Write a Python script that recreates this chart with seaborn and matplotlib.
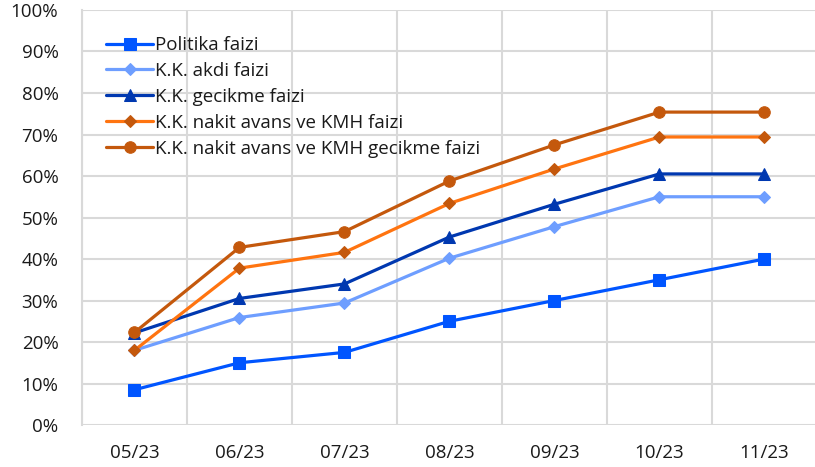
import matplotlib
matplotlib.use("Agg")
import matplotlib.pyplot as plt
import seaborn as sns
import pandas as pd

months = ["05/23", "06/23", "07/23", "08/23", "09/23", "10/23", "11/23"]
politika = [8.5, 15.0, 17.5, 25.0, 30.0, 35.0, 40.0]
akdi = [18.0, 25.9, 29.4, 40.2, 47.8, 55.0, 55.0]
gecikme = [22.2, 30.5, 34.0, 45.3, 53.2, 60.5, 60.5]
nakit = [18.0, 37.8, 41.6, 53.4, 61.7, 69.4, 69.4]
nakit_gec = [22.3, 42.8, 46.6, 58.8, 67.5, 75.4, 75.4]

series = [
    ("Politika faizi", politika, "#0055FF", "s", 9, "#0055FF"),
    ("K.K. akdi faizi", akdi, "#6E9EFF", "D", 6.3, "#6E9EFF"),
    ("K.K. gecikme faizi", gecikme, "#0038B0", "^", 8.5, "#0038B0"),
    ("K.K. nakit avans ve KMH faizi", nakit, "#FF7410", "D", 6.3, "#C4580C"),
    ("K.K. nakit avans ve KMH gecikme faizi", nakit_gec, "#C4580C", "o", 8.3, "#C4580C"),
]

sns.set_theme(style="white")
plt.rcParams["font.family"] = ["Open Sans", "DejaVu Sans"]

fig = plt.figure(figsize=(8.15, 4.67), dpi=100)
ax = fig.add_axes([0.1006, 0.0899, 0.9018, 0.8887])

for name, vals, col, mk, ms, mfc in series:
    df = pd.DataFrame({"x": range(len(months)), "y": vals})
    sns.lineplot(data=df, x="x", y="y", ax=ax, color=col, linewidth=2.3,
                 marker=mk, markersize=ms, markerfacecolor=mfc,
                 markeredgecolor=mfc, label=name)

ax.set_xlim(-0.5, 6.5)
ax.set_ylim(0, 100)
ax.set_xticks(range(len(months)))
ax.set_xticklabels(months)
ax.set_yticks(range(0, 101, 10))
ax.set_yticklabels([f"{v}%" for v in range(0, 101, 10)])
ax.set_xticks([i + 0.5 for i in range(-1, 7)], minor=True)
ax.grid(True, axis="y", color="#D9D9D9", linewidth=1.5)
ax.grid(True, axis="x", which="minor", color="#D9D9D9", linewidth=1.5)
ax.grid(False, axis="x", which="major")
ax.set_axisbelow(True)
for s in ["top", "right", "bottom"]:
    ax.spines[s].set_visible(False)
ax.spines["left"].set_color("#D9D9D9")
ax.spines["left"].set_linewidth(1.5)
ax.set_xlabel("")
ax.set_ylabel("")
ax.tick_params(axis="both", labelsize=13.5, colors="#1a1a1a", length=0)
ax.tick_params(axis="y", pad=17)
ax.tick_params(axis="x", pad=14)

leg = ax.legend(loc="upper left", bbox_to_anchor=(0.023, 0.955), frameon=False,
                fontsize=13.5, handlelength=2.5, handletextpad=0.1,
                labelspacing=0.42, borderaxespad=0)
for t in leg.get_texts():
    t.set_color("#1a1a1a")

fig.savefig("out.png", dpi=100)
